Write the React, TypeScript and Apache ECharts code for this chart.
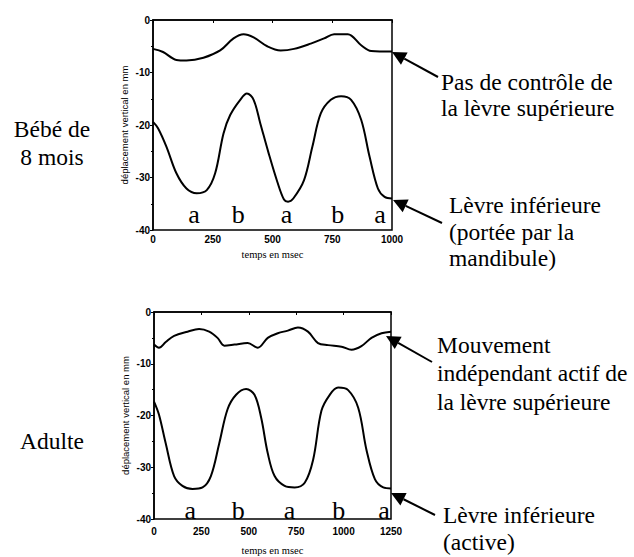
import React, { useEffect, useRef } from "react";
import * as echarts from "echarts";

// Bébé de 8 mois (0–1000 ms)
const babyUpper: [number, number][] = [
  [0, -5.5], [42, -6.1], [98, -7.6], [140, -7.7], [211, -7.2], [281, -5.8], [337, -3.5],
  [379, -2.7], [421, -3.3], [478, -5.0], [534, -5.8], [590, -5.5], [660, -4.5], [716, -3.5],
  [758, -2.7], [815, -2.7], [871, -4.8], [913, -5.9], [1000, -6.0],
];
const babyLower: [number, number][] = [
  [0, -19.4], [21, -20.6], [56, -24.1], [98, -29.2], [140, -32.1], [183, -33.0], [225, -32.4],
  [260, -29.2], [295, -21.6], [323, -18.1], [365, -15.2], [393, -14.0], [421, -15.2],
  [449, -19.7], [484, -25.4], [520, -30.8], [548, -34.2], [565, -34.6], [587, -34.0],
  [632, -30.5], [667, -24.1], [702, -17.8], [744, -15.2], [787, -14.5], [829, -15.2],
  [871, -19.0], [906, -26.0], [941, -32.1], [969, -33.7], [1000, -34.0],
];
// Adulte (0–1250 ms)
const adultUpper: [number, number][] = [
  [0, -6.3], [26, -6.9], [62, -5.8], [106, -4.6], [177, -3.8], [238, -3.3], [291, -3.8],
  [335, -5.0], [371, -6.5], [424, -6.3], [494, -6.0], [547, -6.9], [600, -5.0], [653, -4.1],
  [706, -3.6], [759, -3.0], [812, -3.8], [865, -6.0], [918, -6.4], [989, -6.7], [1042, -7.3],
  [1094, -6.6], [1147, -5.0], [1200, -4.1], [1250, -3.8],
];
const adultLower: [number, number][] = [
  [0, -17.3], [26, -19.8], [62, -25.4], [106, -31.7], [150, -33.6], [203, -34.2], [256, -33.9],
  [300, -31.7], [344, -25.4], [388, -18.8], [433, -16.0], [486, -14.9], [530, -16.0],
  [565, -20.4], [600, -27.3], [636, -31.7], [689, -33.6], [742, -33.9], [795, -33.0],
  [839, -28.6], [883, -19.1], [927, -16.0], [971, -14.6], [1024, -15.1], [1077, -18.5],
  [1121, -26.7], [1165, -32.3], [1209, -33.9], [1250, -34.1],
];
const babyLetters: [number, number, string][] = [
  [172, -37.0, "a"], [357, -37.0, "b"], [559, -37.0, "a"], [773, -37.0, "b"], [950, -37.0, "a"],
];
const adultLetters: [number, number, string][] = [
  [191, -38.3, "a"], [445, -38.3, "b"], [715, -38.3, "a"], [975, -38.3, "b"], [1213, -38.3, "a"],
];

const SERIF = "Liberation Serif";
const SANS = "Liberation Sans";
const FS = 23.5;

function arrow(tipX: number, tipY: number, tailX: number, tailY: number) {
  const dx = tailX - tipX, dy = tailY - tipY;
  const len = Math.hypot(dx, dy);
  const ux = dx / len, uy = dy / len;
  const hl = 14, hw = 7;
  const bx = tipX + ux * hl, by = tipY + uy * hl;
  return [
    {
      type: "polygon",
      shape: { points: [[tipX, tipY], [bx - uy * hw, by + ux * hw], [bx + uy * hw, by - ux * hw]] },
      style: { fill: "#000" },
    },
    {
      type: "line",
      shape: { x1: bx, y1: by, x2: tailX, y2: tailY },
      style: { stroke: "#000", lineWidth: 2 },
    },
  ];
}

function txt(x: number, y: number, s: string, align = "left") {
  return {
    type: "text",
    x, y,
    style: {
      text: s, fontFamily: SERIF, fontSize: FS, fill: "#000",
      align, verticalAlign: "middle",
    },
  };
}

export default function App() {
  const ref = useRef<HTMLDivElement>(null);
  useEffect(() => {
    document.body.style.margin = "0";
    const chart = echarts.init(ref.current!, undefined, { renderer: "svg" });
    const xAxisBase = (max: number, gi: number, gap: number, margin: number) => ({
      type: "value", gridIndex: gi, min: 0, max, interval: 250,
      name: "temps en msec", nameLocation: "middle", nameGap: gap,
      nameTextStyle: { fontFamily: SERIF, fontSize: 10.5, color: "#000" },
      axisLine: { lineStyle: { color: "#000", width: 1.5 } },
      axisTick: { length: 3, lineStyle: { color: "#000" } },
      axisLabel: {
        fontFamily: SANS, fontSize: 10, fontWeight: "bold", color: "#000", margin,
        formatter: (v: number) => String(v),
      },
      splitLine: { show: false },
    });
    const yAxisBase = (gi: number) => ({
      type: "value", gridIndex: gi, min: -40, max: 0, interval: 10,
      name: "déplacement vertical en mm", nameLocation: "middle", nameRotate: 90, nameGap: 24,
      nameTextStyle: { fontFamily: SANS, fontSize: 9.5, color: "#000" },
      axisLine: { lineStyle: { color: "#000", width: 1.5 } },
      axisTick: { length: 3, lineStyle: { color: "#000" } },
      minorTick: { show: true, splitNumber: 2, length: 2, lineStyle: { color: "#000" } },
      axisLabel: {
        fontFamily: SANS, fontSize: 10, fontWeight: "bold", color: "#000", margin: 3,
        formatter: (v: number) => String(v),
      },
      splitLine: { show: false },
    });
    const lineSeries = (data: [number, number][], gi: number) => ({
      type: "line", xAxisIndex: gi, yAxisIndex: gi, data, smooth: 0.35, symbol: "none",
      lineStyle: { color: "#000", width: 2 },
    });
    const letterSeries = (data: [number, number, string][], gi: number) => ({
      type: "scatter", xAxisIndex: gi, yAxisIndex: gi, data, symbolSize: 0,
      itemStyle: { opacity: 1, color: "#000" },
      label: {
        show: true, position: "inside", formatter: (p: any) => p.data[2],
        fontFamily: SERIF, fontSize: 26, color: "#000", opacity: 1, textBorderWidth: 0,
      },
    });
    chart.setOption({
      animation: false,
      grid: [
        { left: 153, top: 20, width: 239, height: 210, show: true, borderColor: "#000", borderWidth: 1.5 },
        { left: 154, top: 312, width: 237, height: 212, show: true, borderColor: "#000", borderWidth: 1.5 },
      ],
      xAxis: [xAxisBase(1000, 0, 19, 4), xAxisBase(1250, 1, 26, 7)],
      yAxis: [yAxisBase(0), yAxisBase(1)],
      series: [
        lineSeries(babyUpper, 0), lineSeries(babyLower, 0), letterSeries(babyLetters, 0),
        lineSeries(adultUpper, 1), lineSeries(adultLower, 1), letterSeries(adultLetters, 1),
      ],
      graphic: [
        ...arrow(392, 52, 438, 77),
        ...arrow(393, 200, 442, 223),
        ...arrow(386, 336, 432, 362),
        ...arrow(391, 493, 435, 515),
        txt(441, 82, "Pas de contrôle de"),
        txt(441, 108, "la lèvre supérieure"),
        txt(449, 205, "Lèvre inférieure"),
        txt(449, 232, "(portée par la"),
        txt(449, 258, "mandibule)"),
        txt(437, 345, "Mouvement"),
        txt(437, 373, "indépendant actif de"),
        txt(437, 402, "la lèvre supérieure"),
        txt(443, 515, "Lèvre inférieure"),
        txt(443, 542, "(active)"),
        txt(52, 129, "Bébé de", "center"),
        txt(52, 157, "8 mois", "center"),
        txt(52, 441, "Adulte", "center"),
      ],
    });
    return () => chart.dispose();
  }, []);
  return <div ref={ref} style={{ width: 634, height: 557 }} />;
}
